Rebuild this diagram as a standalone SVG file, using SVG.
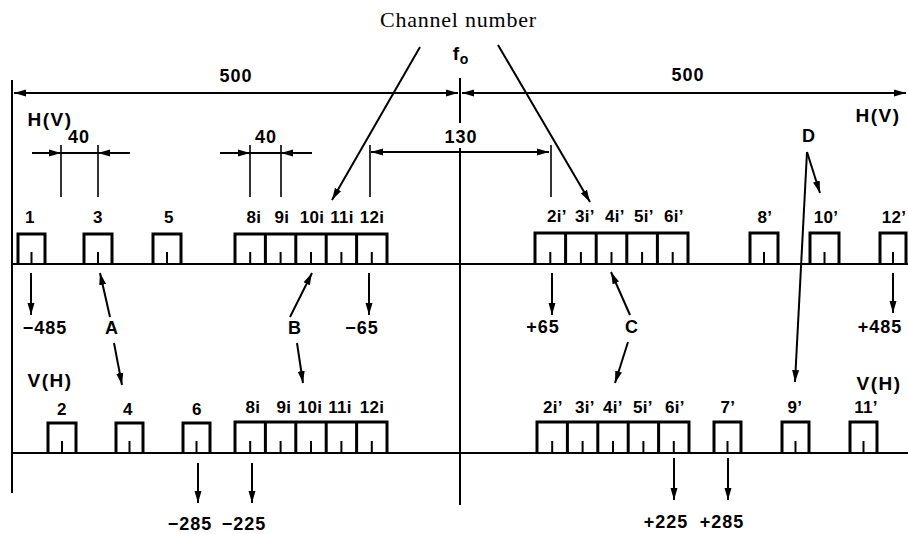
<svg xmlns="http://www.w3.org/2000/svg" width="908" height="534" viewBox="0 0 908 534">
<defs>
<marker id="ah" markerUnits="userSpaceOnUse" markerWidth="13" markerHeight="8" refX="12" refY="4" orient="auto-start-reverse">
<path d="M0,0.5 L12,4 L0,7.5 z" fill="#000"/>
</marker>
<style>
.ln{stroke:#000;stroke-width:2;fill:none}
.th{stroke:#000;stroke-width:1.6;fill:none}
.bx{stroke:#000;stroke-width:3;fill:none;stroke-linejoin:miter}
.tk{stroke:#000;stroke-width:2}
.ar{stroke:#000;stroke-width:2;fill:none;marker-end:url(#ah)}
.t{font-family:"Liberation Sans",Arial,sans-serif;font-weight:bold;fill:#000;text-anchor:middle}
.lb{font-size:17px;letter-spacing:0.3px}
.big{font-size:18px;letter-spacing:1px}
.hv{font-size:19px;letter-spacing:1.5px}
.sv{font-family:"Liberation Serif","Times New Roman",serif;font-size:22px;fill:#000}
</style>
</defs>
<rect width="908" height="534" fill="#fff"/>

<g id="frame">
<line class="ln" x1="12" y1="80" x2="12" y2="493"/>
<line class="ln" x1="460" y1="78" x2="460" y2="123"/>
<line class="ln" x1="460" y1="148" x2="460" y2="505"/>
<line class="ln" x1="12" y1="264" x2="908" y2="264"/>
<line class="ln" x1="12" y1="453" x2="908" y2="453"/>
</g>

<g id="title">
<text class="sv" x="380" y="27" textLength="156" lengthAdjust="spacing">Channel number</text>
</g>

<g id="dimensions">
<line class="ln" x1="14" y1="93" x2="458" y2="93" marker-start="url(#ah)" marker-end="url(#ah)"/>
<line class="ln" x1="462" y1="93" x2="906" y2="93" marker-start="url(#ah)" marker-end="url(#ah)"/>
<text class="t big" x="236" y="82">500</text>
<text class="t big" x="688" y="81">500</text>
<text class="t" x="456" y="60" font-size="19">f</text>
<text class="t" x="464" y="64" font-size="14">o</text>
<text class="t hv" x="50" y="126">H(V)</text>
<text class="t hv" x="878" y="122">H(V)</text>
<text class="t hv" x="50" y="387">V(H)</text>
<text class="t hv" x="879" y="390">V(H)</text>

<line class="ln" x1="32" y1="153" x2="61" y2="153" marker-end="url(#ah)"/>
<line class="ln" x1="61" y1="153" x2="98" y2="153"/>
<line class="ln" x1="130" y1="153" x2="98" y2="153" marker-end="url(#ah)"/>
<line class="th" x1="61" y1="145" x2="61" y2="197"/>
<line class="th" x1="98" y1="145" x2="98" y2="197"/>
<text class="t big" x="79" y="143">40</text>

<line class="ln" x1="220" y1="153" x2="250" y2="153" marker-end="url(#ah)"/>
<line class="ln" x1="250" y1="153" x2="281" y2="153"/>
<line class="ln" x1="312" y1="153" x2="281" y2="153" marker-end="url(#ah)"/>
<line class="th" x1="250" y1="145" x2="250" y2="197"/>
<line class="th" x1="281" y1="145" x2="281" y2="197"/>
<text class="t big" x="266" y="143">40</text>

<line class="ln" x1="371" y1="152" x2="549" y2="152" marker-start="url(#ah)" marker-end="url(#ah)"/>
<line class="th" x1="370" y1="145" x2="370" y2="197"/>
<line class="th" x1="551" y1="145" x2="551" y2="197"/>
<text class="t big" x="461" y="143">130</text>
</g>

<g id="row1-left">
<path class="bx" d="M18,264 V234 H45 V264 M84,264 V234 H112 V264 M153,264 V234 H181 V264"/>
<path class="bx" d="M235,264 V234 H387 V264 M265.4,234 V264 M295.8,234 V264 M326.2,234 V264 M356.6,234 V264"/>
<path class="tk" d="M31.5,252 V264 M98,252 V264 M167,252 V264 M250.2,252 V264 M280.6,252 V264 M311,252 V264 M341.4,252 V264 M371.8,252 V264"/>
<g class="t lb">
<text x="30" y="223">1</text><text x="98" y="223">3</text><text x="169" y="223">5</text>
<text x="254" y="223">8i</text><text x="282" y="223">9i</text><text x="312" y="223">10i</text><text x="342" y="223">11i</text><text x="372" y="223">12i</text>
</g>
</g>

<g id="row1-right">
<path class="bx" d="M535,264 V233 H688 V264 M565.6,233 V264 M596.2,233 V264 M626.8,233 V264 M657.4,233 V264"/>
<path class="bx" d="M750,264 V233 H778 V264 M810,264 V233 H839 V264 M880,264 V233 H906 V264"/>
<path class="tk" d="M550.3,252 V264 M580.9,252 V264 M611.5,252 V264 M642.1,252 V264 M672.7,252 V264 M764,252 V264 M824.5,252 V264 M893,252 V264"/>
<g class="t lb">
<text x="557" y="222">2i’</text><text x="585" y="222">3i’</text><text x="615" y="222">4i’</text><text x="644" y="222">5i’</text><text x="674" y="222">6i’</text>
<text x="765" y="223">8’</text><text x="826" y="223">10’</text><text x="894" y="223">12’</text>
</g>
</g>

<g id="row2-left">
<path class="bx" d="M48,453 V423 H76 V453 M116,453 V423 H143 V453 M183,453 V423 H210 V453"/>
<path class="bx" d="M235,453 V422 H387 V453 M265.4,422 V453 M295.8,422 V453 M326.2,422 V453 M356.6,422 V453"/>
<path class="tk" d="M62,441 V453 M129.5,441 V453 M196.5,441 V453 M250.2,441 V453 M280.6,441 V453 M311,441 V453 M341.4,441 V453 M371.8,441 V453"/>
<g class="t lb">
<text x="62" y="415">2</text><text x="128" y="415">4</text><text x="197" y="415">6</text>
<text x="253" y="413">8i</text><text x="284" y="413">9i</text><text x="310" y="413">10i</text><text x="340" y="413">11i</text><text x="372" y="413">12i</text>
</g>
</g>

<g id="row2-right">
<path class="bx" d="M537,453 V422 H689 V453 M567.4,422 V453 M597.8,422 V453 M628.2,422 V453 M658.6,422 V453"/>
<path class="bx" d="M714,453 V422 H741 V453 M782,453 V422 H809 V453 M850,453 V422 H877 V453"/>
<path class="tk" d="M552.2,441 V453 M582.6,441 V453 M613,441 V453 M643.4,441 V453 M673.8,441 V453 M727.5,441 V453 M795.5,441 V453 M863.5,441 V453"/>
<g class="t lb">
<text x="553" y="413">2i’</text><text x="585" y="413">3i’</text><text x="613" y="413">4i’</text><text x="643" y="413">5i’</text><text x="675" y="413">6i’</text>
<text x="728" y="413">7’</text><text x="795" y="413">9’</text><text x="866" y="413">11’</text>
</g>
</g>

<g id="values">
<g class="t big">
<text x="45" y="334">−485</text>
<text x="112" y="334">A</text>
<text x="295" y="334">B</text>
<text x="362" y="334">−65</text>
<text x="543" y="333">+65</text>
<text x="632" y="333">C</text>
<text x="880" y="333">+485</text>
<text x="809" y="142">D</text>
<text x="190" y="530">−285</text>
<text x="244" y="530">−225</text>
<text x="666" y="528">+225</text>
<text x="722" y="528">+285</text>
</g>
</g>

<g id="connectors">
<line class="ar" x1="420" y1="47" x2="332" y2="200"/>
<line class="ar" x1="498" y1="45" x2="590" y2="202"/>
<line class="ar" x1="807" y1="152" x2="820" y2="193"/>
<line class="ar" x1="807" y1="152" x2="795" y2="382"/>
<line class="ar" x1="31" y1="273" x2="31" y2="315"/>
<line class="ar" x1="369" y1="273" x2="369" y2="315"/>
<line class="ar" x1="552" y1="273" x2="552" y2="315"/>
<line class="ar" x1="893" y1="273" x2="893" y2="313"/>
<line class="ar" x1="110" y1="317" x2="100" y2="273"/>
<line class="ar" x1="114" y1="343" x2="122" y2="385"/>
<line class="ar" x1="290" y1="317" x2="312" y2="273"/>
<line class="ar" x1="297" y1="343" x2="303" y2="383"/>
<line class="ar" x1="630" y1="315" x2="611" y2="272"/>
<line class="ar" x1="628" y1="342" x2="615" y2="383"/>
<line class="ar" x1="198" y1="463" x2="198" y2="503"/>
<line class="ar" x1="252" y1="463" x2="252" y2="503"/>
<line class="ar" x1="674" y1="458" x2="674" y2="500"/>
<line class="ar" x1="728" y1="458" x2="728" y2="500"/>
</g>
</svg>
